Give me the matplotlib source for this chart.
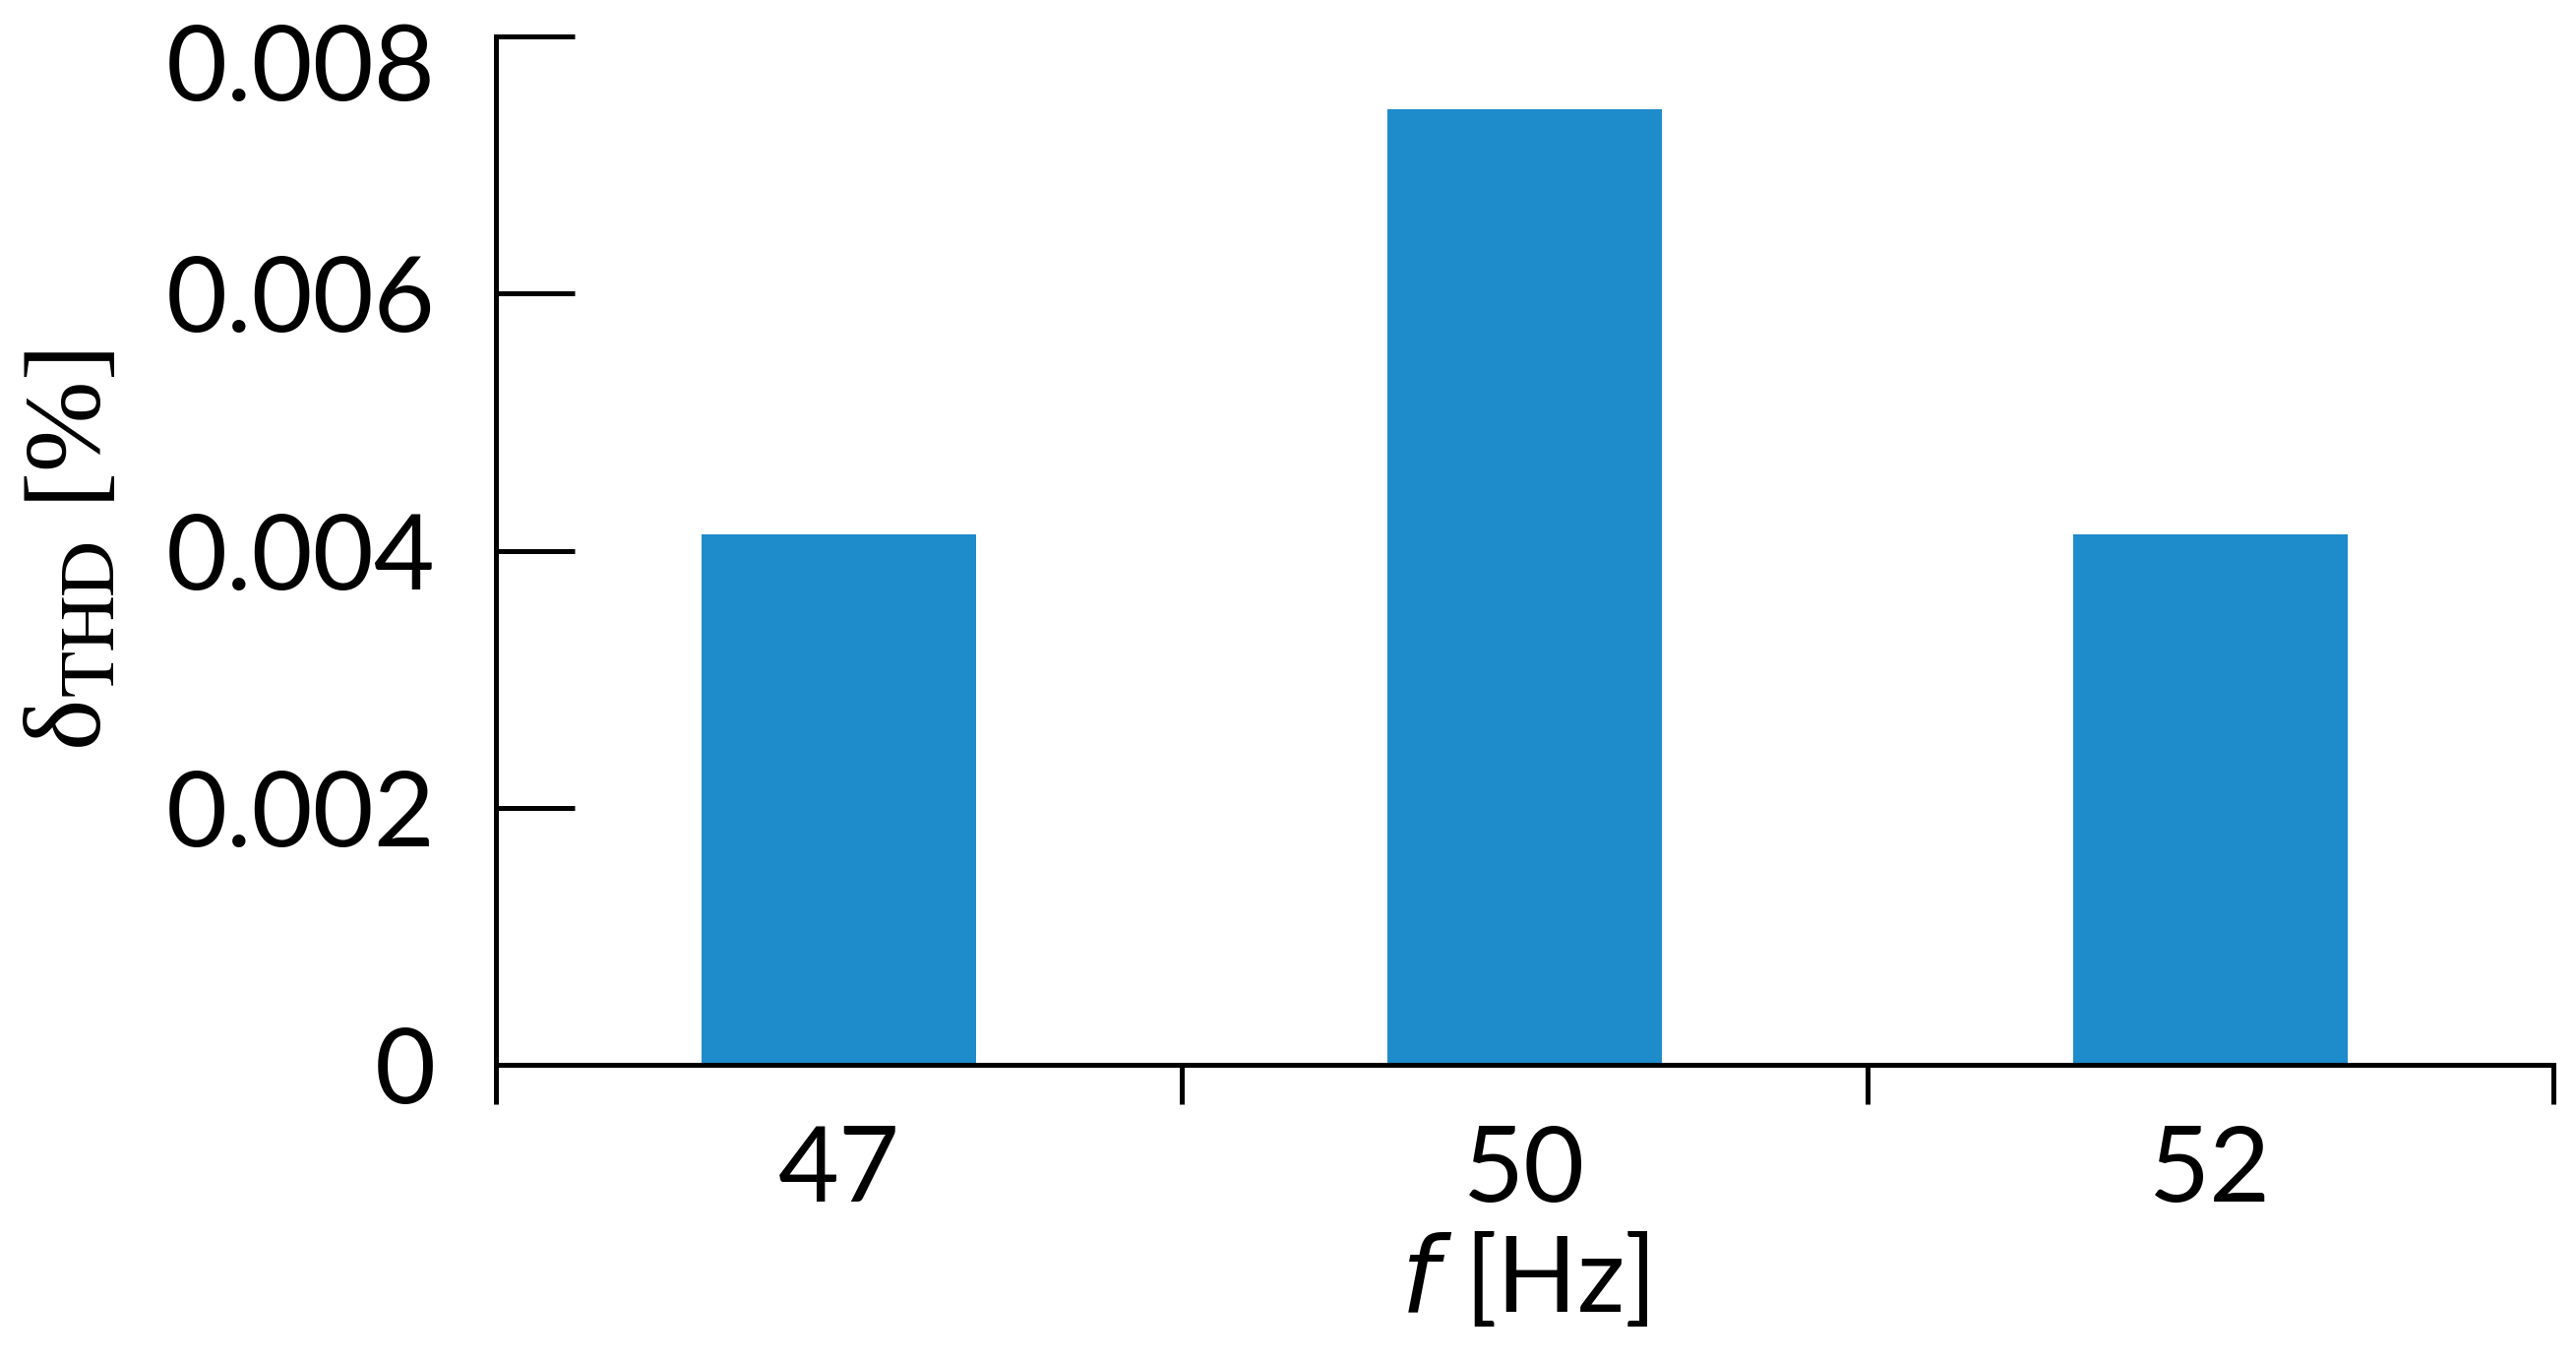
import matplotlib
matplotlib.use("Agg")
import matplotlib.pyplot as plt
from matplotlib.ticker import FixedLocator
import matplotlib.transforms as mtransforms

categories = ["47", "50", "52"]
values = [0.00413, 0.00743, 0.00413]
yticks = [0, 0.002, 0.004, 0.006, 0.008]
ytick_labels = ["0", "0.002", "0.004", "0.006", "0.008"]

DPI = 200
fig = plt.figure(figsize=(2618 / DPI, 1384 / DPI), dpi=DPI)
ax = fig.add_axes([504 / 2618, 1 - 1082 / 1384, (2595 - 504) / 2618, (1082 - 37) / 1384])

x = list(range(len(categories)))
ax.bar(x, values, width=0.4, color="#1E8BCB", zorder=2)

ax.set_xlim(-0.5, len(categories) - 0.5)
ax.set_ylim(0, 0.008)

for s in ["top", "right"]:
    ax.spines[s].set_visible(False)
for s in ["left", "bottom"]:
    ax.spines[s].set_linewidth(1.8)
    ax.spines[s].set_color("black")
    ax.spines[s].set_zorder(3)

tick_font = "Lato"
FS = 38.5
ax.set_yticks(yticks)
ax.set_yticklabels(ytick_labels, fontfamily=tick_font, fontsize=FS)
ax.tick_params(axis="y", direction="in", length=28.8, width=1.8, pad=22)

# top label sits a bit lower in the reference (kept inside the canvas)
top_lab = ax.get_yticklabels()[-1]
top_lab.set_transform(top_lab.get_transform() +
                      mtransforms.ScaledTranslation(0, -26 / DPI, fig.dpi_scale_trans))

ax.set_xticks(x)
ax.set_xticklabels(categories, fontfamily=tick_font, fontsize=FS)
ax.tick_params(axis="x", which="major", length=0, pad=22)
ax.xaxis.set_minor_locator(FixedLocator([i - 0.5 for i in range(len(categories) + 1)]))
ax.tick_params(axis="x", which="minor", direction="out", length=14.4, width=1.8)

plt.rcParams["mathtext.fontset"] = "custom"
plt.rcParams["mathtext.it"] = "Lato:italic"
plt.rcParams["mathtext.rm"] = "Lato"
ax.set_xlabel(r"$\mathit{f}$ [Hz]", fontfamily=tick_font, fontsize=FS, labelpad=4)

ax.set_ylabel(r"δ$_{\mathrm{THD}}$ [%]", fontfamily="Liberation Serif", fontsize=40,
              math_fontfamily="stix", labelpad=16)

fig.savefig("out.png", dpi=DPI, facecolor="white")
